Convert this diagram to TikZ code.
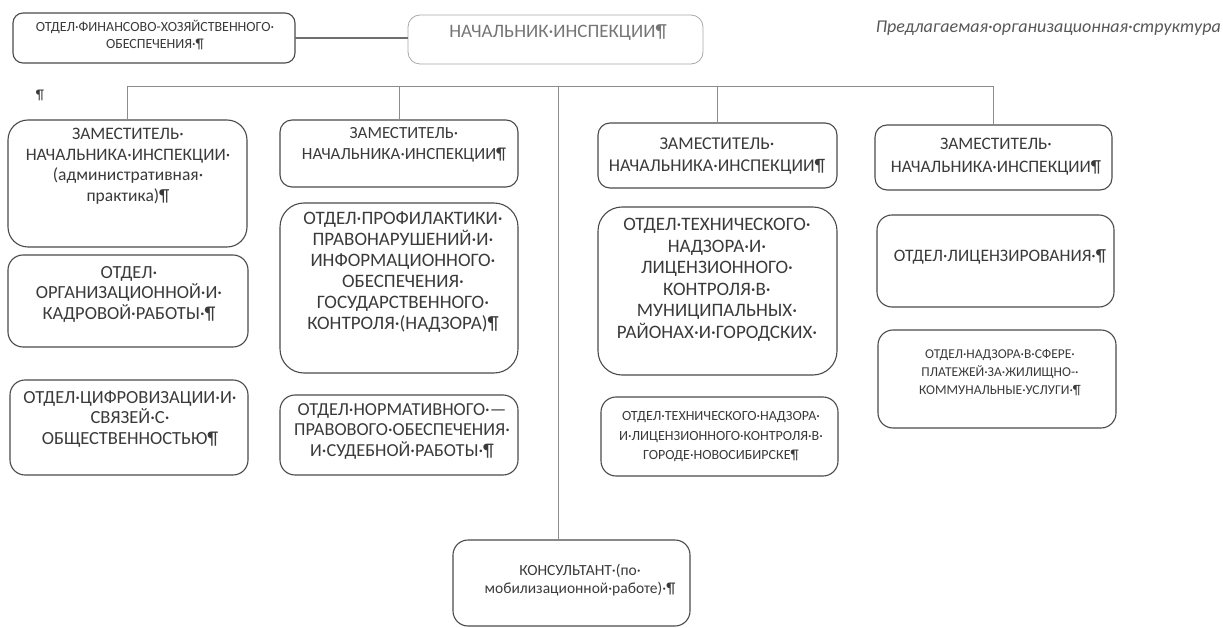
\documentclass[tikz,border=0pt]{standalone}
\usepackage{fontspec}
\setmainfont{Carlito}
\usetikzlibrary{calc}
\definecolor{boxc}{HTML}{4A4A4A}
\definecolor{txtc}{HTML}{3A3A3A}
\definecolor{lightc}{HTML}{A8A8A8}
\definecolor{busc}{HTML}{8C8C8C}
\newcommand\orgbox[7]{% name, x1, y1, x2, y2, radius, style
  \node[box, #7, rounded corners=#6, minimum width={(#4-#2)*1pt}, minimum height={(#5-#3)*1pt}] (#1) at (#2,#3) {};}
\newcommand\fs[2]{\fontsize{#1}{#2}\selectfont}
\begin{document}
\begin{tikzpicture}[x=1pt,y=-1pt,
  box/.style={draw=boxc, line width=1.1pt, anchor=north west, inner sep=0pt, outer sep=0pt},
  lightbox/.style={draw=lightc, line width=0.8pt},
  txt/.style={text=txtc, align=center, inner sep=0pt},
  conn/.style={draw=busc, line width=0.8pt},
  link/.style={draw=boxc!80, line width=1.1pt}]
\useasboundingbox (0,0) rectangle (1223,628);

% top row
\orgbox{fin}{13}{13}{295}{63}{10pt}{}
\node[txt, font=\fs{14}{17.5}] (fint) at (155,35) {ОТДЕЛ·ФИНАНСОВО-ХОЗЯЙСТВЕННОГО·\\ОБЕСПЕЧЕНИЯ·¶};
\orgbox{boss}{408}{15}{703}{64}{12pt}{lightbox}
\node[txt, font=\fs{19}{22}, text=txtc!70] (bosst) at (558,33) {НАЧАЛЬНИК·ИНСПЕКЦИИ¶};
\node[txt, anchor=east, text=txtc!85, font=\fs{18}{20}\itshape] (title) at (1221,28) {Предлагаемая·организационная·структура};
\node[txt, font=\fs{14}{16}] (pil) at (40,95) {¶};

% column 1
\orgbox{d1}{8}{120}{247}{247}{20pt}{}
\node[txt, font=\fs{17.5}{20.5}] (d1t) at (128,166) {ЗАМЕСТИТЕЛЬ·\\НАЧАЛЬНИКА·ИНСПЕКЦИИ·\\(административная·\\практика)¶};
\orgbox{org}{8}{255}{248}{347}{15pt}{}
\node[txt, font=\fs{18.5}{20.5}] (orgt) at (129,294) {ОТДЕЛ·\\ОРГАНИЗАЦИОННОЙ·И·\\КАДРОВОЙ·РАБОТЫ·¶};
\orgbox{dig}{10}{380}{248}{475}{15pt}{}
\node[txt, font=\fs{18.5}{20.5}] (digt) at (130,419) {ОТДЕЛ·ЦИФРОВИЗАЦИИ·И·\\СВЯЗЕЙ·С·\\ОБЩЕСТВЕННОСТЬЮ¶};

% column 2
\orgbox{d2}{280}{120}{518}{187}{12pt}{}
\node[txt, font=\fs{17}{20.5}] (d2t) at (404,145) {ЗАМЕСТИТЕЛЬ·\\НАЧАЛЬНИКА·ИНСПЕКЦИИ¶};
\orgbox{prof}{280}{203}{518}{373}{24pt}{}
\node[txt, font=\fs{19}{21}] (proft) at (403,272) {ОТДЕЛ·ПРОФИЛАКТИКИ·\\ПРАВОНАРУШЕНИЙ·И·\\ИНФОРМАЦИОННОГО·\\ОБЕСПЕЧЕНИЯ·\\ГОСУДАРСТВЕННОГО·\\КОНТРОЛЯ·(НАДЗОРА)¶};
\orgbox{norm}{280}{395}{518}{475}{15pt}{}
\node[txt, font=\fs{18.3}{20.5}] (normt) at (402,431) {ОТДЕЛ·НОРМАТИВНОГО·—\\ПРАВОВОГО·ОБЕСПЕЧЕНИЯ·\\И·СУДЕБНОЙ·РАБОТЫ·¶};

% column 3
\orgbox{d3}{598}{123}{837}{188}{12pt}{}
\node[txt, font=\fs{18}{22}] (d3t) at (717,156) {ЗАМЕСТИТЕЛЬ·\\НАЧАЛЬНИКА·ИНСПЕКЦИИ¶};
\orgbox{tech}{598}{207}{837}{375}{24pt}{}
\node[txt, font=\fs{19}{21.5}] (techt) at (717,280) {ОТДЕЛ·ТЕХНИЧЕСКОГО·\\НАДЗОРА·И·\\ЛИЦЕНЗИОННОГО·\\КОНТРОЛЯ·В·\\МУНИЦИПАЛЬНЫХ·\\РАЙОНАХ·И·ГОРОДСКИХ·};
\orgbox{novo}{601}{397}{838}{476}{15pt}{}
\node[txt, font=\fs{14}{19.5}] (novot) at (721,437) {ОТДЕЛ·ТЕХНИЧЕСКОГО·НАДЗОРА·\\И·ЛИЦЕНЗИОННОГО·КОНТРОЛЯ·В·\\ГОРОДЕ·НОВОСИБИРСКЕ¶};

% column 4
\orgbox{d4}{875}{125}{1112}{190}{12pt}{}
\node[txt, font=\fs{17.5}{23}] (d4t) at (996,157) {ЗАМЕСТИТЕЛЬ·\\НАЧАЛЬНИКА·ИНСПЕКЦИИ¶};
\orgbox{lic}{877}{215}{1114}{307}{15pt}{}
\node[txt, font=\fs{17.5}{20}] (lict) at (1000,257) {ОТДЕЛ·ЛИЦЕНЗИРОВАНИЯ·¶};
\orgbox{pay}{878}{330}{1116}{428}{15pt}{}
\node[txt, font=\fs{13.5}{18}] (payt) at (1000,373) {ОТДЕЛ·НАДЗОРА·В·СФЕРЕ·\\ПЛАТЕЖЕЙ·ЗА·ЖИЛИЩНО-·\\КОММУНАЛЬНЫЕ·УСЛУГИ·¶};

% consultant
\orgbox{cons}{453}{540}{690}{626}{15pt}{}
\node[txt, font=\fs{15.5}{17.5}] (const) at (580,580) {КОНСУЛЬТАНТ·(по·\\мобилизационной·работе)·¶};

% connectors
\coordinate (busy) at (0,86);
\coordinate (tr) at (558,86);
\draw[link] (fin.east) -- (fin.east -| boss.west);
\draw[conn] (d1.north) |- (d4.north |- busy) -- (d4.north);
\draw[conn] (d2.north) -- (d2.north |- busy);
\draw[conn] (d3.north) -- (d3.north |- busy);
\draw[conn] (tr) -- (tr |- cons.north);
\end{tikzpicture}
\end{document}
